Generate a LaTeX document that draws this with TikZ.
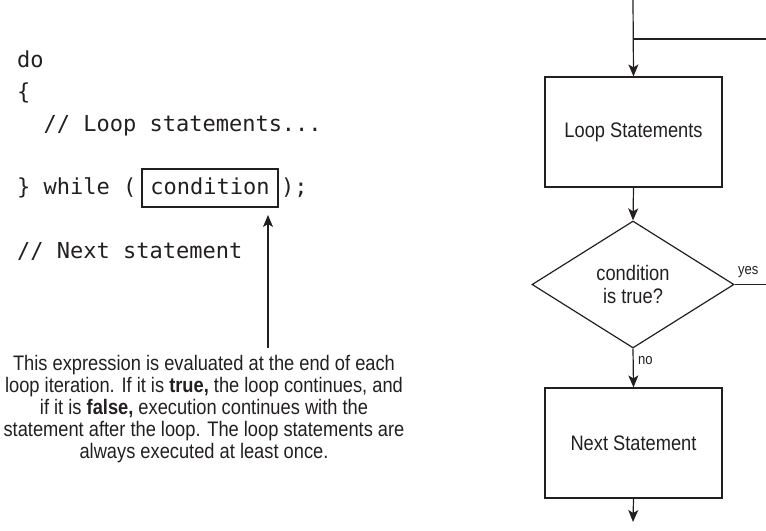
\documentclass[tikz,border=0pt]{standalone}
\usepackage{fontspec}
\usetikzlibrary{shapes.geometric,arrows.meta}
\newfontfamily\codefont{DejaVu Sans Mono}
\newfontfamily\capfont[FakeStretch=0.87]{Liberation Sans}
\definecolor{ink}{HTML}{231F20}
\tikzset{
  codetext/.style={font=\codefont\fontsize{22bp}{32bp}\selectfont, text=ink, inner sep=0pt},
  captext/.style={font=\capfont\fontsize{21bp}{22bp}\selectfont, text=ink, inner sep=0pt, align=center},
  smalllab/.style={font=\capfont\fontsize{15bp}{16bp}\selectfont, text=ink, inner sep=0pt},
  boxnode/.style={draw=ink, line width=1.2bp, minimum width=177bp, minimum height=110bp, inner sep=0pt,
                  font=\capfont\fontsize{21bp}{23bp}\selectfont, text=ink},
  decision/.style={draw=ink, line width=1.2bp, shape=diamond, aspect=1.59, minimum width=202bp, minimum height=127bp,
                  inner sep=0pt, align=center, font=\capfont\fontsize{21bp}{23bp}\selectfont, text=ink},
  conn/.style={draw=ink, line width=1.2bp},
  arr/.style={conn, -{Stealth[length=12bp, width=10bp, inset=3bp]}}
}
\begin{document}
\begin{tikzpicture}[x=1bp, y=-1bp]
\useasboundingbox (0,0) rectangle (766,531);
% code
\node[codetext, anchor=base west] (l1) at (17,68) {do};
\node[codetext, anchor=base west] (l2) at (17,100) {\{};
\node[codetext, anchor=base west] (l3) at (43.4,132) {// Loop statements...};
\node[codetext, anchor=base west] (l4a) at (17,195) {\} while (};
\node[codetext, anchor=base, draw=ink, line width=1.2bp, text height=26bp, text depth=12bp,
      minimum width=136bp] (cond) at (210,195) {condition};
\node[codetext, anchor=base west] (l4b) at (281,195) {);};
\node[codetext, anchor=base west] (l5) at (17,259) {// Next statement};
% caption
\node[captext, anchor=north] (cap) at (204,355) {This expression is evaluated at the end of each\\
loop iteration. If it is \textbf{true,} the loop continues, and\\
if it is \textbf{false,} execution continues with the\\
statement after the loop. The loop statements are\\
always executed at least once.};
\coordinate (atail) at (268,348);
\coordinate (ahead) at (268,215);
\draw[arr] (atail) -- (ahead);
% flowchart
\node[boxnode] (loop) at (633.5,132) {Loop Statements};
\node[decision] (dec) at (633,284.5) {condition\\is true?};
\node[boxnode] (next) at (633.5,443) {Next Statement};
\coordinate (top) at (633,0);
\coordinate (join) at (633,39);
\coordinate (back) at (766,39);
\coordinate (yesend) at (766,284.5);
\coordinate (outend) at (633,522);
\draw[arr] (top) -- (loop.north);
\draw[conn] (back) -- (join);
\draw[arr] (loop.south) -- (dec.north);
\draw[arr] (dec.south) -- (next.north);
\draw[conn] (dec.east) -- (yesend);
\draw[arr] (next.south) -- (outend);
\node[smalllab, anchor=base west] (yes) at (738,275) {yes};
\node[smalllab, anchor=base west] (no) at (638,364) {no};
\end{tikzpicture}
\end{document}
